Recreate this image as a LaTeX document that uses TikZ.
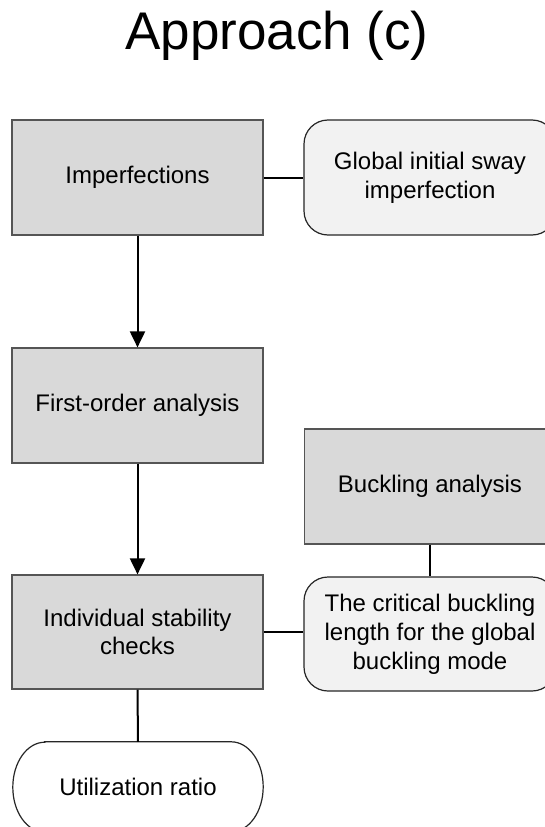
\documentclass[tikz,border=0pt]{standalone}
\usepackage{fontspec}
\setmainfont{Liberation Sans}
\usetikzlibrary{arrows.meta,calc}
\definecolor{rectfill}{HTML}{D9D9D9}
\definecolor{roundfill}{HTML}{F2F2F2}
\definecolor{rectline}{HTML}{555555}
\definecolor{roundline}{HTML}{262626}
\begin{document}
\begin{tikzpicture}[x=1pt,y=-1pt,
  boxtext/.style={align=center, font=\fontsize{24}{28.8}\selectfont, inner sep=0pt},
  procbox/.style={boxtext, draw=rectline, fill=rectfill, line width=1.2pt,
    minimum width=251pt, minimum height=115pt},
  infobox/.style={boxtext, draw=roundline, fill=roundfill, line width=1.2pt,
    rounded corners=24pt, minimum width=252pt, minimum height=115pt},
  ovaltext/.style={boxtext, minimum width=250pt, minimum height=90pt},
  ovalline/.style={draw=roundline, fill=white, line width=1.2pt},
  link/.style={line width=2pt, black},
  flow/.style={link, -{Triangle[length=16pt,width=15pt]}}
]
\clip (0,0) rectangle (545,827);
\fill[white] (0,0) rectangle (545,827);

\node[anchor=base, inner sep=0pt, font=\fontsize{53}{60}\selectfont] (title) at (277,49) {Approach (c)};

\node[procbox] (imp) at (137.5,177.5) {Imperfections};
\node[infobox] (glob) at (430,177.5) {Global initial sway\\imperfection};
\node[procbox] (first) at (137.5,405.5) {First-order analysis};
\node[procbox, minimum height=114pt] (indiv) at (137.5,632) {Individual stability\\checks};
\node[procbox] (buck) at (430,486.5) {Buckling analysis};
\node[infobox, minimum height=114pt] (crit) at (430,634) {The critical buckling\\length for the global\\buckling mode};

\node[ovaltext] (util) at (138,787) {};
\draw[ovalline] ($(util.north west)+(32,0)$) -- ($(util.north east)+(-32,0)$)
  arc[start angle=90, end angle=-90, x radius=32pt, y radius=45pt]
  -- ($(util.south west)+(32,0)$)
  arc[start angle=270, end angle=90, x radius=32pt, y radius=45pt] -- cycle;
\node[boxtext] at (util.center) {Utilization ratio};

\draw[link] (imp.east) -- (glob.west);
\draw[flow] (imp.south) -- (first.north);
\draw[flow] (first.south) -- (indiv.north);
\draw[link] (buck.south) -- (crit.north);
\draw[link] (indiv.east) -- (indiv.east -| crit.west);
\draw[link] (indiv.south) -- (util.north);
\end{tikzpicture}
\end{document}
